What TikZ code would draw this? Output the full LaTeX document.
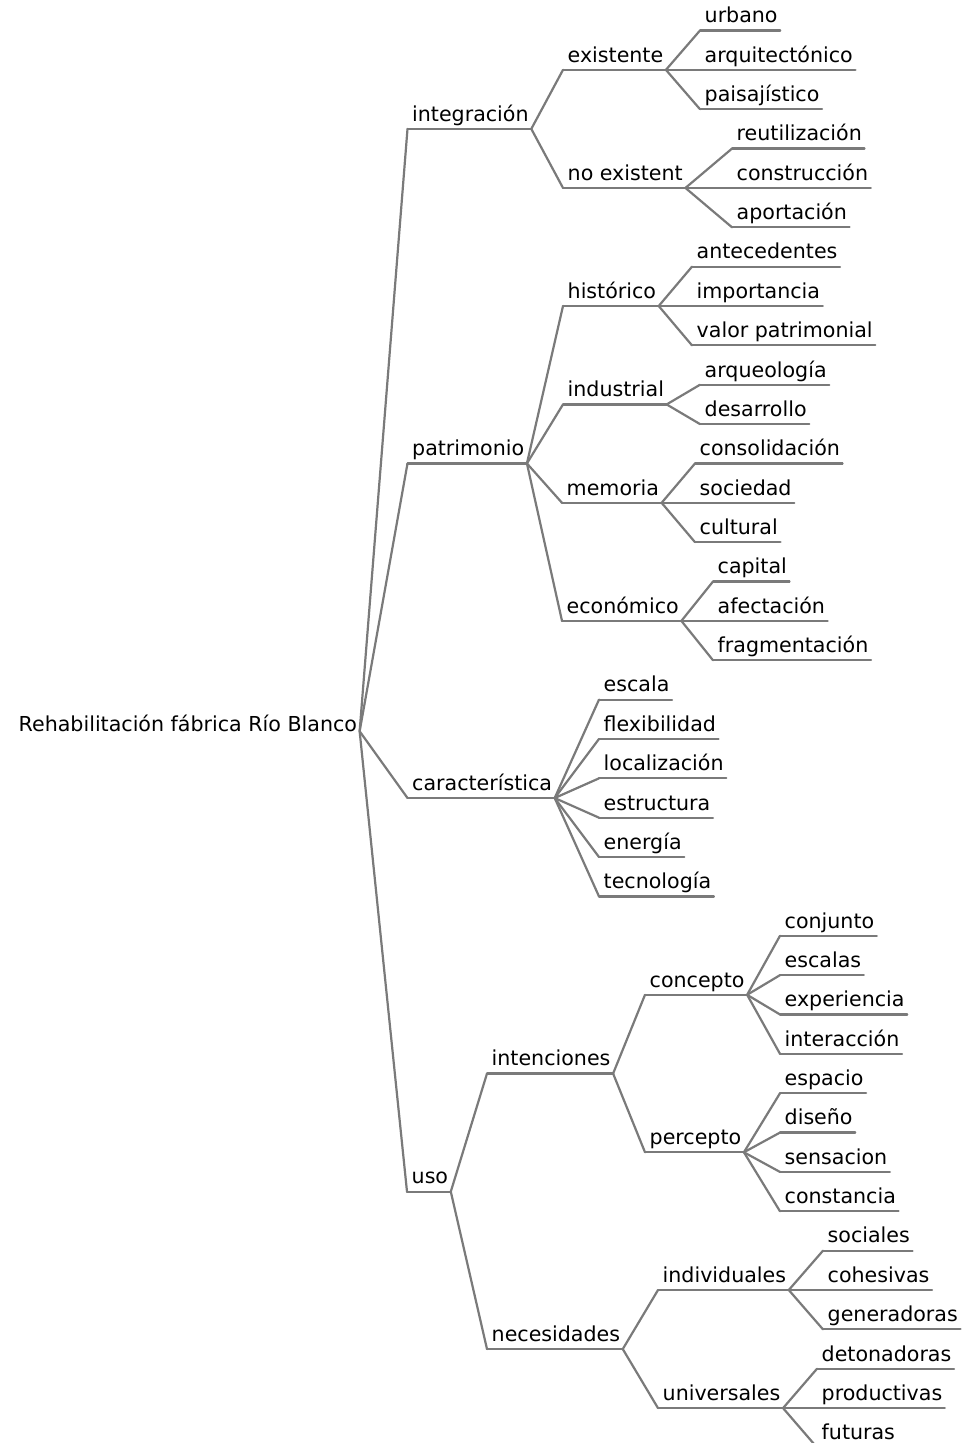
\documentclass[tikz,border=0pt]{standalone}
\usepackage{fontspec}
\setmainfont{DejaVu Sans}
\usepackage{tikz}
\usepackage{xcolor}

\begin{document}
\begin{tikzpicture}[x=1pt, y=-39.36pt,
    branch/.style={draw=black!52, line width=2.2pt, line cap=round, line join=round},
    topic/.style={anchor=south west, inner xsep=0pt, inner ysep=0pt, text depth=7.5pt,
        font=\fontsize{20.6pt}{24pt}\selectfont,
        execute at begin node=\hspace{4.5pt}, execute at end node=\hspace{2.5pt},
        append after command={(\tikzlastnode.south west) edge[branch] (\tikzlastnode.south east)}},
    roottopic/.style={anchor=south west, inner xsep=0pt, inner ysep=0pt, text depth=7.5pt,
        font=\fontsize{20.6pt}{24pt}\selectfont,
        execute at begin node=\hspace{4.5pt}, execute at end node=\hspace{2.5pt}}]
    \useasboundingbox (0,-0.775) rectangle (976,35.887);

    % Root node
    \node[roottopic] (root) at (14,18) {Rehabilitación fábrica Río Blanco};

    % integración
    \node[topic] (integ) at (407.5,2.5) {integración};
    \node[topic] (exist) at (563,1) {existente};
    \node[topic] (urbano) at (700,0) {urbano};
    \node[topic] (arquit) at (700,1) {arquitectónico};
    \node[topic] (paisaj) at (700,2) {paisajístico};
    \node[topic] (noexist) at (563,4) {no existent};
    \node[topic] (reutil) at (732,3) {reutilización};
    \node[topic] (constr) at (732,4) {construcción};
    \node[topic] (aport) at (732,5) {aportación};

    % patrimonio
    \node[topic] (patri) at (407.5,11) {patrimonio};
    \node[topic] (hist) at (563,7) {histórico};
    \node[topic] (antec) at (692,6) {antecedentes};
    \node[topic] (import) at (692,7) {importancia};
    \node[topic] (valor) at (692,8) {valor patrimonial};
    \node[topic] (indus) at (563,9.5) {industrial};
    \node[topic] (arqueo) at (700,9) {arqueología};
    \node[topic] (desarr) at (700,10) {desarrollo};
    \node[topic] (memo) at (562,12) {memoria};
    \node[topic] (consol) at (695,11) {consolidación};
    \node[topic] (socied) at (695,12) {sociedad};
    \node[topic] (cultur) at (695,13) {cultural};
    \node[topic] (econ) at (562,15) {económico};
    \node[topic] (capital) at (713,14) {capital};
    \node[topic] (afect) at (713,15) {afectación};
    \node[topic] (fragm) at (713,16) {fragmentación};

    % característica
    \node[topic] (caract) at (407.5,19.5) {característica};
    \node[topic] (escala) at (599,17) {escala};
    \node[topic] (flexib) at (599,18) {flexibilidad};
    \node[topic] (localiz) at (599,19) {localización};
    \node[topic] (estruc) at (599,20) {estructura};
    \node[topic] (energia) at (599,21) {energía};
    \node[topic] (tecno) at (599,22) {tecnología};

    % uso
    \node[topic] (uso) at (407,29.5) {uso};
    \node[topic] (intenc) at (487,26.5) {intenciones};
    \node[topic] (concep) at (645,24.5) {concepto};
    \node[topic] (conjun) at (780,23) {conjunto};
    \node[topic] (escalas) at (780,24) {escalas};
    \node[topic] (experi) at (780,25) {experiencia};
    \node[topic] (interac) at (780,26) {interacción};
    \node[topic] (percep) at (645,28.5) {percepto};
    \node[topic] (espacio) at (780,27) {espacio};
    \node[topic] (diseno) at (780,28) {diseño};
    \node[topic] (sensac) at (780,29) {sensacion};
    \node[topic] (consta) at (780,30) {constancia};
    \node[topic] (necesi) at (487,33.5) {necesidades};
    \node[topic] (indiv) at (658,32) {individuales};
    \node[topic] (socia) at (823,31) {sociales};
    \node[topic] (cohes) at (823,32) {cohesivas};
    \node[topic] (gener) at (823,33) {generadoras};
    \node[topic] (univ) at (658,35) {universales};
    \node[topic] (deton) at (817,34) {detonadoras};
    \node[topic] (produ) at (817,35) {productivas};
    \node[topic] (futur) at (817,36) {futuras};

    % Connectors
    \foreach \c in {integ,patri,caract,uso}
        \draw[branch] (root.base east) -- (\c.south west);
    \foreach \p/\c in {integ/exist, integ/noexist,
        exist/urbano, exist/arquit, exist/paisaj,
        noexist/reutil, noexist/constr, noexist/aport,
        patri/hist, patri/indus, patri/memo, patri/econ,
        hist/antec, hist/import, hist/valor,
        indus/arqueo, indus/desarr,
        memo/consol, memo/socied, memo/cultur,
        econ/capital, econ/afect, econ/fragm,
        caract/escala, caract/flexib, caract/localiz, caract/estruc, caract/energia, caract/tecno,
        uso/intenc, uso/necesi,
        intenc/concep, intenc/percep,
        concep/conjun, concep/escalas, concep/experi, concep/interac,
        percep/espacio, percep/diseno, percep/sensac, percep/consta,
        necesi/indiv, necesi/univ,
        indiv/socia, indiv/cohes, indiv/gener,
        univ/deton, univ/produ, univ/futur}
        \draw[branch] (\p.south east) -- (\c.south west);
\end{tikzpicture}
\end{document}
